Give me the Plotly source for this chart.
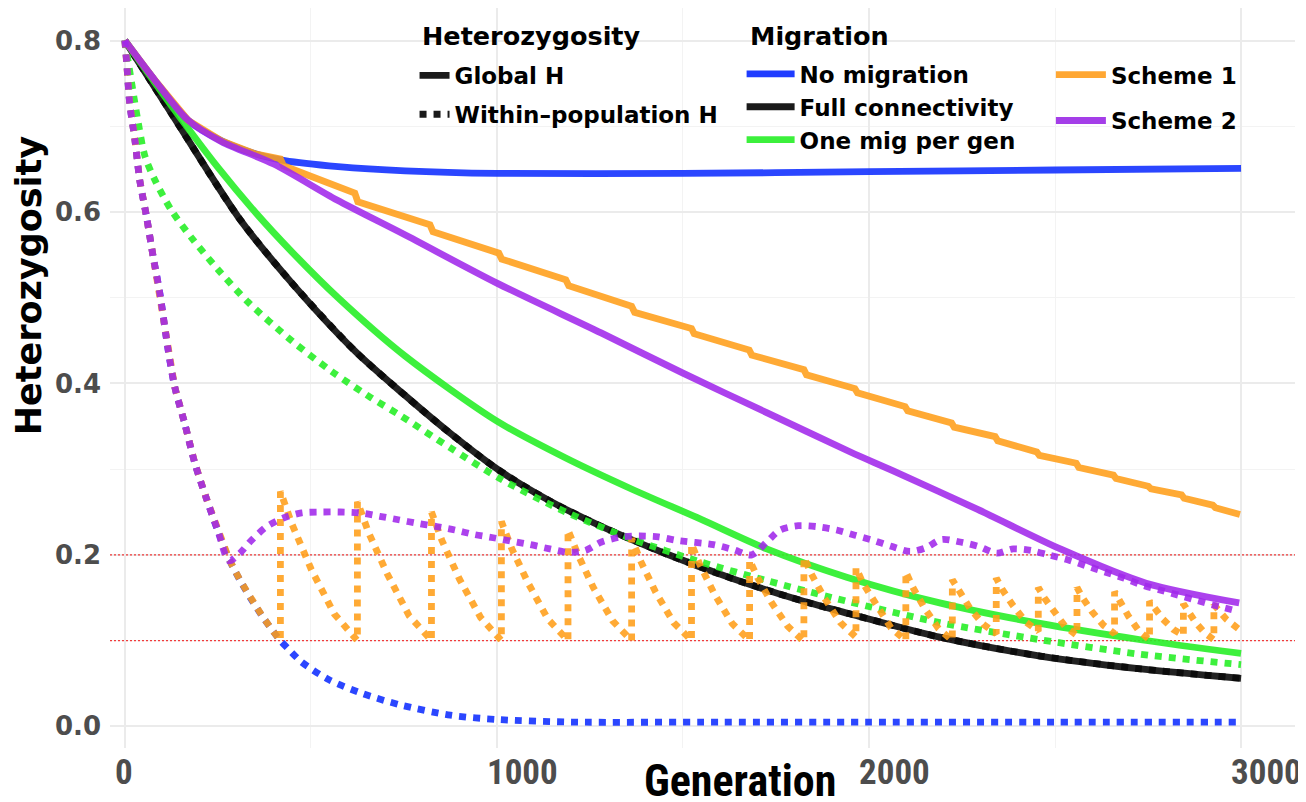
import plotly.graph_objects as go

# ---------------- data ----------------
# No migration
gen_nomig_global = [0, 80, 170, 260, 350, 430, 573, 753, 1000, 1500, 2000, 2500, 3000]
h_nomig_global = [0.800, 0.754, 0.707, 0.683, 0.668, 0.660, 0.653, 0.648, 0.645, 0.645, 0.647, 0.649, 0.651]
gen_nomig_within = [0, 5, 13, 27, 40, 58, 76, 94, 116, 134, 161, 188, 219, 250, 280, 310, 340, 370, 400,
                    418, 440, 475, 550, 640, 740, 875, 1000, 1200, 1600, 2000, 2500, 3000]
h_nomig_within = [0.800, 0.774, 0.727, 0.684, 0.637, 0.595, 0.548, 0.505, 0.440, 0.396, 0.353, 0.307, 0.266,
                  0.228, 0.195, 0.170, 0.148, 0.128, 0.110, 0.100, 0.090, 0.075, 0.054, 0.038, 0.025, 0.013,
                  0.008, 0.005, 0.005, 0.005, 0.005, 0.005]

# Full connectivity (global and within overlap)
gen_full = [0, 125, 305, 439, 618, 753, 874, 1008, 1142, 1277, 1456, 1635, 1815, 1950, 2190, 2460, 2730, 3000]
h_full_global = [0.800, 0.715, 0.594, 0.522, 0.438, 0.386, 0.342, 0.298, 0.263, 0.234, 0.201, 0.172,
                 0.147, 0.131, 0.104, 0.082, 0.067, 0.056]
h_full_within = [0.800, 0.715, 0.594, 0.522, 0.438, 0.386, 0.342, 0.298, 0.263, 0.234, 0.201, 0.172,
                 0.147, 0.131, 0.104, 0.082, 0.067, 0.056]

# One migrant per generation
gen_one_global = [0, 125, 250, 350, 450, 573, 753, 1000, 1185, 1366, 1546, 1725, 1940, 2190, 2460, 2730, 3000]
h_one_global = [0.800, 0.724, 0.652, 0.600, 0.553, 0.500, 0.432, 0.356, 0.313, 0.276, 0.242, 0.207, 0.174,
                0.144, 0.120, 0.101, 0.085]
gen_one_within = [0, 36, 54, 81, 125, 179, 250, 331, 448, 556, 663, 739, 874, 1008, 1185, 1366, 1546, 1725,
                  1940, 2190, 2460, 2730, 3000]
h_one_within = [0.800, 0.704, 0.665, 0.637, 0.602, 0.570, 0.533, 0.495, 0.450, 0.414, 0.383, 0.363, 0.325,
                0.289, 0.250, 0.218, 0.192, 0.170, 0.146, 0.121, 0.101, 0.084, 0.072]

# Scheme 1
gen_s1_global = [0, 80, 170, 260, 350, 418, 426, 618, 626, 820, 828, 1005, 1013, 1185, 1193, 1362, 1370,
                 1523, 1530, 1678, 1685, 1825, 1832, 1962, 1969, 2097, 2104, 2222, 2229, 2339, 2346, 2451,
                 2458, 2557, 2564, 2657, 2664, 2751, 2758, 2840, 2847, 2924, 2931, 2997]
h_s1_global = [0.800, 0.754, 0.707, 0.683, 0.668, 0.662, 0.654, 0.622, 0.612, 0.585, 0.577, 0.552, 0.545,
               0.521, 0.514, 0.490, 0.483, 0.464, 0.458, 0.439, 0.433, 0.416, 0.410, 0.394, 0.389, 0.373,
               0.368, 0.354, 0.349, 0.338, 0.333, 0.320, 0.316, 0.307, 0.302, 0.293, 0.289, 0.280, 0.277,
               0.270, 0.266, 0.258, 0.255, 0.247]
gen_s1_within = [0, 5, 13, 27, 40, 58, 76, 94, 116, 134, 161, 188, 219, 250, 280, 310, 340, 370, 400, 418,
                 418, 449, 501, 563, 625,
                 625, 655, 705, 764, 824,
                 824, 852, 899, 956, 1012,
                 1012, 1039, 1084, 1137, 1191,
                 1191, 1217, 1259, 1311, 1362,
                 1362, 1386, 1426, 1475, 1523,
                 1523, 1546, 1585, 1632, 1679,
                 1679, 1701, 1737, 1781, 1825,
                 1825, 1846, 1881, 1923, 1965,
                 1965, 1985, 2019, 2059, 2099,
                 2099, 2118, 2149, 2187, 2224,
                 2224, 2242, 2271, 2307, 2342,
                 2342, 2359, 2387, 2421, 2455,
                 2455, 2471, 2497, 2528, 2559,
                 2559, 2574, 2599, 2630, 2660,
                 2660, 2674, 2698, 2726, 2754,
                 2754, 2768, 2790, 2818, 2845,
                 2845, 2857, 2878, 2902, 2927,
                 2927, 2940, 2960, 2995]
h_s1_within = [0.800, 0.774, 0.727, 0.684, 0.637, 0.595, 0.548, 0.505, 0.440, 0.396, 0.353, 0.307, 0.266,
               0.228, 0.195, 0.170, 0.148, 0.128, 0.110, 0.100,
               0.274, 0.236, 0.183, 0.131, 0.100,
               0.262, 0.226, 0.178, 0.129, 0.100,
               0.250, 0.217, 0.172, 0.127, 0.100,
               0.239, 0.208, 0.167, 0.125, 0.100,
               0.229, 0.201, 0.162, 0.123, 0.100,
               0.219, 0.193, 0.157, 0.121, 0.100,
               0.213, 0.188, 0.154, 0.120, 0.100,
               0.194, 0.173, 0.145, 0.117, 0.099,
               0.197, 0.177, 0.149, 0.121, 0.104,
               0.185, 0.166, 0.141, 0.115, 0.100,
               0.180, 0.162, 0.138, 0.114, 0.100,
               0.171, 0.157, 0.138, 0.119, 0.108,
               0.173, 0.159, 0.141, 0.122, 0.111,
               0.162, 0.150, 0.133, 0.116, 0.106,
               0.162, 0.150, 0.134, 0.118, 0.108,
               0.157, 0.145, 0.128, 0.111, 0.101,
               0.146, 0.137, 0.125, 0.113, 0.106,
               0.143, 0.134, 0.121, 0.109, 0.101,
               0.142, 0.135, 0.125, 0.113]

# Scheme 2
gen_s2_global = [0, 80, 170, 260, 400, 570, 750, 1000, 1280, 1500, 1725, 1950, 2065, 2292, 2519, 2745, 2995]
h_s2_global = [0.800, 0.754, 0.707, 0.682, 0.656, 0.614, 0.574, 0.517, 0.459, 0.412, 0.366, 0.320, 0.298,
               0.253, 0.206, 0.167, 0.144]
gen_s2_within = [0, 5, 13, 27, 40, 58, 76, 94, 116, 134, 161, 188, 219, 250, 280, 309, 340, 381, 426, 475,
                 529, 578, 632, 685, 735, 784, 838, 887, 936, 990, 1039, 1089, 1142, 1191, 1237, 1281, 1335,
                 1384, 1434, 1483, 1582, 1636, 1685, 1725, 1761, 1810, 1859, 1913, 1962, 2011, 2060, 2110,
                 2151, 2195, 2245, 2294, 2343, 2388, 2437, 2482, 2536, 2585, 2634, 2684, 2733, 2782, 2831,
                 2880, 2930, 2985]
h_s2_within = [0.800, 0.774, 0.727, 0.684, 0.637, 0.595, 0.548, 0.505, 0.440, 0.396, 0.353, 0.307, 0.266,
               0.228, 0.193, 0.202, 0.217, 0.233, 0.243, 0.249, 0.250, 0.250, 0.249, 0.245, 0.241, 0.237,
               0.233, 0.229, 0.224, 0.220, 0.216, 0.212, 0.207, 0.203, 0.205, 0.215, 0.221, 0.222, 0.221,
               0.217, 0.212, 0.206, 0.200, 0.215, 0.229, 0.234, 0.233, 0.229, 0.223, 0.217, 0.210, 0.204,
               0.208, 0.218, 0.215, 0.210, 0.202, 0.207, 0.205, 0.200, 0.194, 0.187, 0.180, 0.173, 0.165,
               0.159, 0.153, 0.147, 0.141, 0.135]

thresholds = [0.1, 0.2]

x_range = [-40, 3145]
y_range = [-0.0253, 0.838]
x_ticks = [0, 1000, 2000, 3000]
x_tick_text = ["0", "1000", "2000", "3000"]
y_ticks = [0.0, 0.2, 0.4, 0.6, 0.8]
y_tick_text = ["0.0", "0.2", "0.4", "0.6", "0.8"]

migration_names = ["No migration", "Full connectivity", "One mig per gen", "Scheme 1", "Scheme 2"]
het_names = ["Global H", "Within\u2013population H"]
legend_titles = ["Heterozygosity", "Migration"]

# ---------------- styling ----------------
col_blue = "rgba(20,50,255,0.9)"
col_black = "rgba(10,10,10,0.9)"
col_green = "rgba(40,238,40,0.9)"
col_orange = "rgba(255,158,25,0.88)"
col_purple = "rgba(160,40,235,0.88)"
LW = 6.8
DOT = "7px,7px"

fig = go.Figure()

# threshold guide lines (drawn first, under the curves)
for t in thresholds:
    fig.add_trace(go.Scatter(x=x_range, y=[t, t], mode="lines", showlegend=False, hoverinfo="skip",
                             line=dict(color="#F03A3A", width=1.4, dash="2px,2px")))

series = [
    (gen_nomig_global, h_nomig_global, col_blue, "solid", "spline"),
    (gen_nomig_within, h_nomig_within, col_blue, DOT, "spline"),
    (gen_full, h_full_global, col_black, "solid", "spline"),
    (gen_full, h_full_within, col_black, DOT, "spline"),
    (gen_one_global, h_one_global, col_green, "solid", "spline"),
    (gen_one_within, h_one_within, col_green, DOT, "spline"),
    (gen_s1_global, h_s1_global, col_orange, "solid", "linear"),
    (gen_s1_within, h_s1_within, col_orange, DOT, "linear"),
    (gen_s2_global, h_s2_global, col_purple, "solid", "spline"),
    (gen_s2_within, h_s2_within, col_purple, DOT, "spline"),
]
for xs, ys, c, d, shp in series:
    fig.add_trace(go.Scatter(
        x=xs, y=ys, mode="lines", showlegend=False, hoverinfo="skip",
        line=dict(color=c, width=LW, dash=d, shape=shp, smoothing=0.8),
    ))

# legend entries (dummy traces)
fig.add_trace(go.Scatter(x=[None], y=[None], mode="lines", name=het_names[0], legend="legend",
                         legendgroup="h1", line=dict(color="#1a1a1a", width=LW)))
fig.add_trace(go.Scatter(x=[None], y=[None], mode="lines", name=het_names[1], legend="legend",
                         legendgroup="h2", line=dict(color="#1a1a1a", width=LW, dash=DOT)))
mig_cols = ["#1f3cff", "#1a1a1a", "#3cf03c", "#ffa733", "#a43ee8"]
for i in range(3):
    fig.add_trace(go.Scatter(x=[None], y=[None], mode="lines", name=migration_names[i], legend="legend2",
                             line=dict(color=mig_cols[i], width=LW)))
for i in range(3, 5):
    fig.add_trace(go.Scatter(x=[None], y=[None], mode="lines", name=migration_names[i], legend="legend3",
                             legendgroup="m%d" % i, line=dict(color=mig_cols[i], width=LW)))

BOLD = "DejaVu Sans"
NARROW = "Liberation Sans Narrow, Arial Narrow, Roboto Condensed, DejaVu Sans Condensed, sans-serif"
leg_item_font = dict(family=BOLD, size=23, color="black", weight="bold")
leg_title_font = dict(family=BOLD, size=25.5, color="black", weight="bold")

fig.update_layout(
    width=1298, height=794,
    margin=dict(l=102, r=11, t=0, b=54, autoexpand=False),
    plot_bgcolor="white", paper_bgcolor="white",
    xaxis=dict(range=x_range, tickvals=x_ticks, ticktext=x_tick_text, showgrid=True, automargin=False,
               gridcolor="#EBEBEB", gridwidth=1.6, zeroline=False, showline=False, ticks="",
               tickfont=dict(family=NARROW, size=35, color="#4D4D4D", weight="bold"),
               ticklabelposition="outside right", ticklabelshift=-10,
               minor=dict(dtick=500, tick0=0, showgrid=True, gridcolor="#F3F3F3", gridwidth=0.9)),
    yaxis=dict(range=y_range, tickvals=y_ticks, ticktext=y_tick_text, showgrid=True, automargin=False,
               gridcolor="#EBEBEB", gridwidth=1.6, zeroline=False, showline=False, ticks="",
               ticklabelstandoff=8,
               tickfont=dict(family=BOLD, size=26, color="#4D4D4D", weight="bold"),
               minor=dict(dtick=0.1, tick0=0, showgrid=True, gridcolor="#F3F3F3", gridwidth=0.9)),
    legend=dict(font=leg_item_font, x=0.257, y=0.938, xanchor="left", yanchor="top",
                bgcolor="rgba(0,0,0,0)", tracegroupgap=6, itemwidth=30),
    legend2=dict(font=leg_item_font, x=0.533, y=0.940, xanchor="left", yanchor="top",
                 bgcolor="rgba(0,0,0,0)", tracegroupgap=0, itemwidth=48),
    legend3=dict(font=leg_item_font, x=0.794, y=0.939, xanchor="left", yanchor="top",
                 bgcolor="rgba(0,0,0,0)", tracegroupgap=13, itemwidth=50),
    annotations=[
        dict(text=legend_titles[0], xref="paper", yref="paper", x=0.2616, y=0.962, xanchor="left",
             yanchor="middle", showarrow=False, font=leg_title_font),
        dict(text=legend_titles[1], xref="paper", yref="paper", x=0.538, y=0.962, xanchor="left",
             yanchor="middle", showarrow=False, font=leg_title_font),
        dict(text="Generation", xref="paper", yref="paper", x=0.532, y=-0.044, xanchor="center",
             yanchor="middle", showarrow=False,
             font=dict(family=NARROW, size=44, color="black", weight="bold")),
        dict(text="Heterozygosity", xref="paper", yref="paper", x=-0.0685, y=0.625, xanchor="center",
             yanchor="middle", textangle=-90, showarrow=False,
             font=dict(family=BOLD, size=35, color="black", weight="bold")),
    ],
)

fig.write_html("out.html")
